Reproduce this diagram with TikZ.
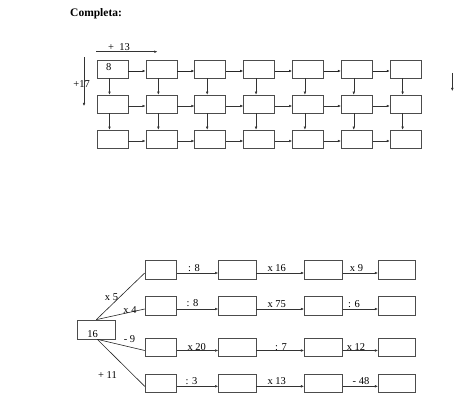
\documentclass[tikz,border=0pt]{standalone}
\usepackage{fontspec}
\setmainfont{Liberation Serif}
\usetikzlibrary{arrows.meta}
\begin{document}
\begin{tikzpicture}[x=1pt,y=-1pt,
  box/.style={draw=black!70,line width=0.7pt,minimum width=31pt,minimum height=18pt,inner sep=0pt},
  wbox/.style={draw=black!70,line width=0.7pt,minimum width=37.5pt,minimum height=18.5pt,inner sep=0pt},
  arr/.style={-{Latex[length=3pt,width=2.6pt]},line width=0.45pt,black!80},
  tarr/.style={-{Latex[length=3pt,width=2.6pt]},line width=0.9pt,black!85},
  ln/.style={line width=0.6pt,black!85},
  lbl/.style={inner sep=0pt,font=\fontsize{10.5}{12}\selectfont}
]
\useasboundingbox (0,0) rectangle (474,403);
\node[anchor=west,inner sep=0pt,font=\fontsize{11.5}{13}\selectfont\bfseries] (title) at (70,14) {Completa:};
% top grid
\foreach \i in {1,...,7}{
  \foreach \j/\y in {1/69,2/104,3/139}{
    \node[box] (g\j\i) at ({112.5+48.85*(\i-1)},\y) {};
  }
}
\node[lbl] (eight) at (108.7,67.5) {8};
\foreach \i [evaluate=\i as \n using int(\i+1)] in {1,...,6}{
  \draw[tarr] ([yshift=-2pt]g1\i.east) -- ([yshift=-2pt]g1\n.west);
  \draw[arr] ([yshift=-2pt]g2\i.east) -- ([yshift=-2pt]g2\n.west);
  \draw[arr] ([yshift=-2pt]g3\i.east) -- ([yshift=-2pt]g3\n.west);
}
\foreach \i in {1,...,7}{
  \draw[arr] ([xshift=-3pt]g1\i.south) -- ([xshift=-3pt]g2\i.north);
  \draw[arr] ([xshift=-3pt]g2\i.south) -- ([xshift=-3pt]g3\i.north);
}
\coordinate (h1) at (96,51.7);
\coordinate (h2) at (157.3,51.7);
\draw[arr] (h1) -- (h2);
\node[lbl] (p13) at (119,47.5) {+\ \ 13};
\coordinate (v1) at (84,57.3);
\coordinate (v2) at (84,106);
\draw[arr] (v1) -- (v2);
\node[lbl] (p17) at (81.7,84) {+17};
\coordinate (d1) at (452.3,73);
\coordinate (d2) at (452.3,91);
\draw[arr] (d1) -- (d2);
% bottom part
\node[draw=black!70,line width=0.7pt,minimum width=37.3pt,minimum height=19pt,inner sep=0pt] (s) at (96.3,329.5) {};
\node[lbl] (sixteen) at (92.7,334) {16};
\foreach \r/\y in {1/270,2/306,3/347.5,4/383.3}{
  \node[box,minimum height=18.5pt,minimum width=31.7pt] (b\r1) at (160.9,\y) {};
  \node[wbox] (b\r2) at (237.2,\y) {};
  \node[wbox,minimum width=38pt] (b\r3) at (323.3,\y) {};
  \node[wbox] (b\r4) at (397,\y) {};
  \draw[arr] ([yshift=-3pt]b\r1.east) -- ([yshift=-3pt]b\r2.west);
  \draw[arr] ([yshift=-3pt]b\r2.east) -- ([yshift=-3pt]b\r3.west);
  \draw[arr] ([yshift=-3pt]b\r3.east) -- ([yshift=-3pt]b\r4.west);
}
\draw[ln] (s.north) -- ([yshift=-3pt]b11.west);
\draw[ln] (s.north) -- ([yshift=-3pt]b21.west);
\draw[ln] ([xshift=1pt]s.south) -- ([yshift=-3pt]b31.west);
\draw[ln] ([xshift=1pt]s.south) -- ([yshift=-3pt]b41.west);
\node[lbl] (l1) at (111.5,297.3) {x 5};
\node[lbl] (l2) at (130,310) {x 4};
\node[lbl] (l3) at (129.5,339.5) {- 9};
\node[lbl] (l4) at (107.5,375) {+ 11};
\node[lbl] (a1) at (194,268) {: 8};
\node[lbl] (a2) at (276.7,268.3) {x 16};
\node[lbl] (a3) at (356.5,268.3) {x 9};
\node[lbl] (a4) at (192.5,303.5) {: 8};
\node[lbl] (a5) at (276.7,304) {x 75};
\node[lbl] (a6) at (354,304) {: 6};
\node[lbl] (a7) at (196.7,347.3) {x 20};
\node[lbl] (a8) at (281,347) {: 7};
\node[lbl] (a9) at (356,347) {x 12};
\node[lbl] (a10) at (191.5,381.3) {: 3};
\node[lbl] (a11) at (276.7,381) {x 13};
\node[lbl] (a12) at (361,381) {- 48};
\end{tikzpicture}
\end{document}
